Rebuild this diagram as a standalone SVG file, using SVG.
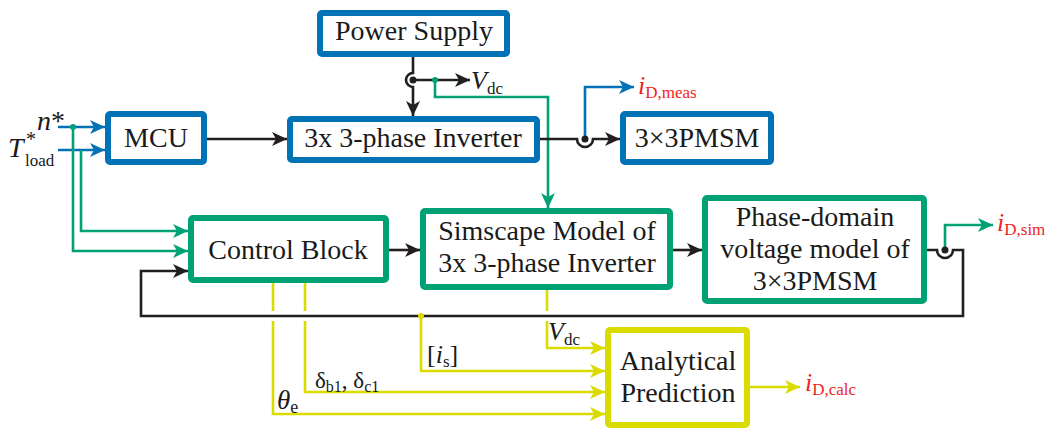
<svg xmlns="http://www.w3.org/2000/svg" width="1057" height="437" viewBox="0 0 1057 437">
<style>
.box{fill:#fff;stroke-width:6;stroke-linejoin:round}
.blue{stroke:#0072B5}
.green{stroke:#00A275}
.yel{stroke:#DADC00}
.t{font-family:"Liberation Serif","Times New Roman",serif;font-size:28px;fill:#1a1a1a;text-anchor:middle}
.lbl{font-family:"Liberation Serif","Times New Roman",serif;fill:#1a1a1a}
.red{fill:#F01E1E}
.w{fill:none;stroke-width:2.6}
.k{stroke:#231F20}
</style>
<defs>
<marker id="ak" markerUnits="userSpaceOnUse" markerWidth="16" markerHeight="14" refX="15" refY="7" orient="auto"><path d="M0,0 L15,7 L0,14 L4,7 Z" fill="#231F20"/></marker>
<marker id="ab" markerUnits="userSpaceOnUse" markerWidth="16" markerHeight="14" refX="15" refY="7" orient="auto"><path d="M0,0 L15,7 L0,14 L4,7 Z" fill="#0072B5"/></marker>
<marker id="ag" markerUnits="userSpaceOnUse" markerWidth="16" markerHeight="14" refX="15" refY="7" orient="auto"><path d="M0,0 L15,7 L0,14 L4,7 Z" fill="#00A275"/></marker>
<marker id="ay" markerUnits="userSpaceOnUse" markerWidth="16" markerHeight="14" refX="15" refY="7" orient="auto"><path d="M0,0 L15,7 L0,14 L4,7 Z" fill="#DADC00"/></marker>
</defs>

<g id="connectors">
<!-- inputs -->
<path class="w" stroke="#0072B5" d="M58,127 H105" marker-end="url(#ab)"/>
<path class="w" stroke="#0072B5" d="M58,150 H105" marker-end="url(#ab)"/>
<path class="w" stroke="#00A275" d="M73,127 V251 H188" marker-end="url(#ag)"/>
<path class="w" stroke="#00A275" d="M81,150 V231 H188" marker-end="url(#ag)"/>
<circle cx="73" cy="127" r="3" fill="#00A275"/>
<!-- power supply -->
<path class="w k" d="M413,57 V73 A7,7 0 0 0 413,87 V116" marker-end="url(#ak)"/>
<path class="w k" d="M413,80 H470" marker-end="url(#ak)"/>
<circle cx="413" cy="80" r="3.5" fill="#231F20"/>
<path class="w" stroke="#00A275" d="M435,80 V97 H548 V208" marker-end="url(#ag)"/>
<circle cx="435" cy="80" r="3" fill="#00A275"/>
<!-- MCU to inverter -->
<path class="w k" d="M207,139 H287" marker-end="url(#ak)"/>
<!-- inverter to PMSM -->
<path class="w k" d="M540,139 H577 A8,8 0 0 0 593,139 H620" marker-end="url(#ak)"/>
<path class="w" stroke="#0072B5" d="M585,139 V87 H634" marker-end="url(#ab)"/>
<circle cx="585" cy="139" r="3.5" fill="#231F20"/>
<!-- control chain -->
<path class="w k" d="M389,250 H420" marker-end="url(#ak)"/>
<path class="w k" d="M673,250 H702" marker-end="url(#ak)"/>
<!-- yellow -->
<path class="w" stroke="#DADC00" d="M547,290 V311 M547,321 V348 H605" marker-end="url(#ay)"/>
<path class="w" stroke="#DADC00" d="M421,316 V371 H605" marker-end="url(#ay)"/>
<path class="w" stroke="#DADC00" d="M305,283 V311 M305,321 V392 H605" marker-end="url(#ay)"/>
<path class="w" stroke="#DADC00" d="M273,283 V311 M273,321 V414 H605" marker-end="url(#ay)"/>
<path class="w" stroke="#DADC00" d="M750,387 H800" marker-end="url(#ay)"/>
<!-- feedback -->
<path class="w k" d="M927,250 H937 A8,8 0 0 0 953,250 H963 V316 H141 V271 H188" marker-end="url(#ak)"/>
<circle cx="421" cy="316" r="3" fill="#DADC00"/>
<path class="w" stroke="#00A275" d="M945,250 V225 H993" marker-end="url(#ag)"/>
<circle cx="945" cy="250" r="3.5" fill="#231F20"/>
</g>

<g id="power-supply"><rect class="box blue" x="320" y="13" width="187" height="41" rx="2"/><text class="t" x="414" y="40">Power Supply</text></g>
<g id="mcu"><rect class="box blue" x="108" y="114" width="96" height="48" rx="2"/><text class="t" x="156" y="147">MCU</text></g>
<g id="inverter"><rect class="box blue" x="290" y="119" width="247" height="41" rx="2"/><text class="t" x="413" y="147">3x 3-phase Inverter</text></g>
<g id="pmsm"><rect class="box blue" x="623" y="114" width="148" height="48" rx="2"/><text class="t" x="697" y="147">3×3PMSM</text></g>
<g id="control-block"><rect class="box green" x="191" y="218" width="195" height="62" rx="2"/><text class="t" x="288" y="259">Control Block</text></g>
<g id="simscape"><rect class="box green" x="423" y="211" width="247" height="76" rx="2"/><text class="t" x="547" y="240">Simscape Model of</text><text class="t" x="547" y="272">3x 3-phase Inverter</text></g>
<g id="phase-domain"><rect class="box green" x="705" y="198" width="219" height="103" rx="2"/><text class="t" x="815" y="226">Phase-domain</text><text class="t" x="815" y="258">voltage model of</text><text class="t" x="815" y="290">3×3PMSM</text></g>
<g id="analytical"><rect class="box yel" x="608" y="330" width="139" height="95" rx="2"/><text class="t" x="678" y="370">Analytical</text><text class="t" x="678" y="402">Prediction</text></g>

<g id="labels">
<text class="lbl" font-size="28"><tspan x="37" y="130" font-style="italic">n</tspan><tspan>*</tspan><tspan x="8" y="157" font-style="italic">T</tspan><tspan x="26" y="146" font-size="20">*</tspan><tspan x="25" y="166" font-size="17">load</tspan></text>
<text class="lbl" x="471" y="89" font-size="26"><tspan font-style="italic">V</tspan><tspan font-size="17" dy="5">dc</tspan></text>
<text class="lbl red" x="638" y="94" font-size="26"><tspan font-style="italic">i</tspan><tspan font-size="17" dy="4">D,meas</tspan></text>
<text class="lbl red" x="997" y="231" font-size="26"><tspan font-style="italic">i</tspan><tspan font-size="17" dy="4">D,sim</tspan></text>
<text class="lbl red" x="805" y="391" font-size="26"><tspan font-style="italic">i</tspan><tspan font-size="17" dy="4">D,calc</tspan></text>
<text class="lbl" x="548" y="340" font-size="26"><tspan font-style="italic">V</tspan><tspan font-size="17" dy="5">dc</tspan></text>
<text class="lbl" x="427" y="363" font-size="26">[<tspan font-style="italic">i</tspan><tspan font-size="17" dy="4">s</tspan><tspan dy="-4">]</tspan></text>
<text class="lbl" x="315" y="388" font-size="23">δ<tspan font-size="16" dy="4">b1</tspan><tspan dy="-4">, δ</tspan><tspan font-size="16" dy="4">c1</tspan></text>
<text class="lbl" x="277" y="409" font-size="27"><tspan font-style="italic">θ</tspan><tspan font-size="18" dy="4">e</tspan></text>
</g>
</svg>
